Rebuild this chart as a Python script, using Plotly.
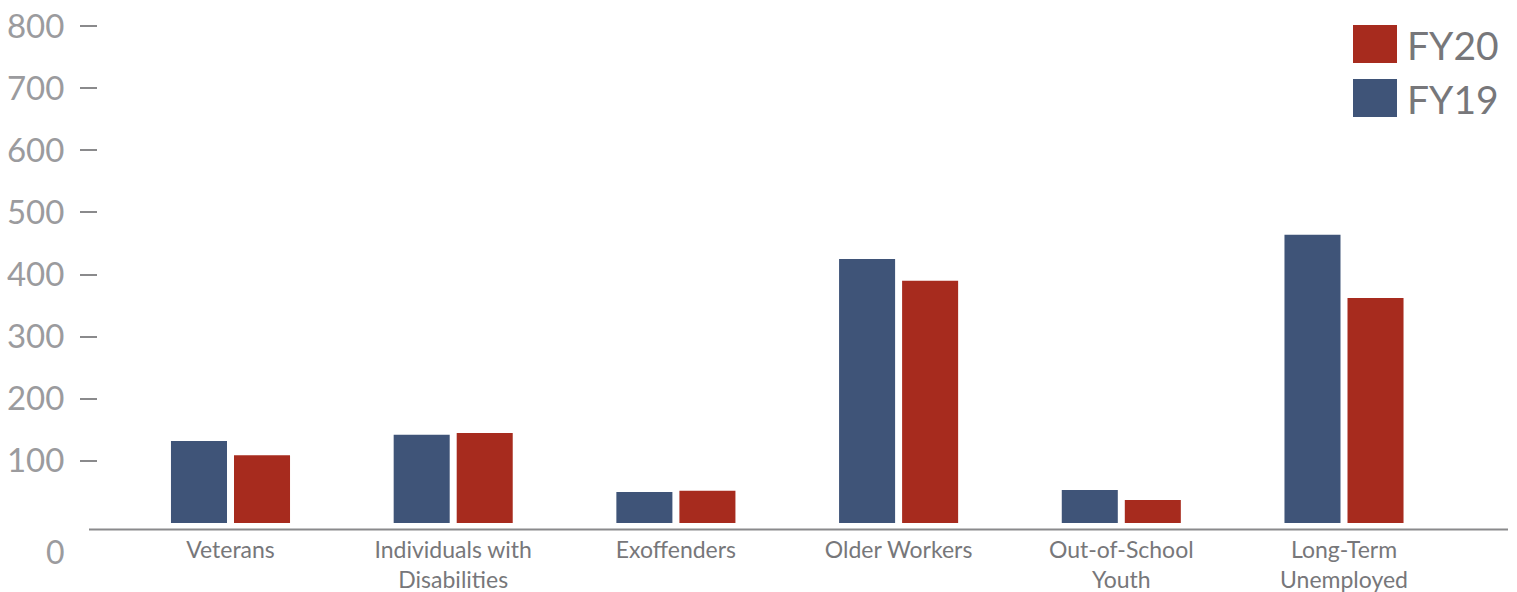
import plotly.graph_objects as go

# ---- data ----
categories = ["Veterans", "Individuals with<br>Disabilities", "Exoffenders",
              "Older Workers", "Out-of-School<br>Youth", "Long-Term<br>Unemployed"]
fy19 = [132, 142, 50, 425, 53, 464]
fy20 = [109, 145, 52, 390, 37, 362]
y_tick_vals = [100, 200, 300, 400, 500, 600, 700, 800]
y_tick_text = ["100", "200", "300", "400", "500", "600", "700", "800"]
series_names = ["FY19", "FY20"]

# ---- style ----
W, H = 1517, 592
ML, MR, MT, MB = 98, 9, 0, 62
PW, PH = W - ML - MR, H - MT - MB
BLUE = "#3F5478"
RED = "#A72B1E"
AXIS = "#8A8A8C"
TICKTXT = "#9B9B9E"
LABTXT = "#77777A"
FONT = "Lato"


def px(x):
    return (x - ML) / PW


def py(y):
    return (H - MB - y) / PH


fig = go.Figure()
fig.add_bar(x=categories, y=fy19, name=series_names[0], marker_color=BLUE,
            marker_line_width=0, showlegend=False)
fig.add_bar(x=categories, y=fy20, name=series_names[1], marker_color=RED,
            marker_line_width=0, showlegend=False)

shapes = [
    # baseline
    dict(type="line", xref="paper", yref="paper", x0=px(89), x1=px(1508),
         y0=py(529.5), y1=py(529.5), line=dict(color=AXIS, width=2)),
    # legend swatches
    dict(type="rect", xref="paper", yref="paper", x0=px(1353), x1=px(1397),
         y0=py(63), y1=py(25), fillcolor=RED, line_width=0),
    dict(type="rect", xref="paper", yref="paper", x0=px(1353), x1=px(1397),
         y0=py(117), y1=py(79), fillcolor=BLUE, line_width=0),
]

annotations = [
    dict(text="0", xref="paper", yref="paper", x=px(67), y=py(551),
         xanchor="right", yanchor="middle", showarrow=False,
         font=dict(family=FONT, size=32, color=TICKTXT)),
    dict(text=series_names[1], xref="paper", yref="paper", x=px(1405), y=py(45),
         xanchor="left", yanchor="middle", showarrow=False,
         font=dict(family=FONT, size=39, color=LABTXT)),
    dict(text=series_names[0], xref="paper", yref="paper", x=px(1405), y=py(99),
         xanchor="left", yanchor="middle", showarrow=False,
         font=dict(family=FONT, size=39, color=LABTXT)),
]

zero_px = 523.0
unit = (zero_px - 26.0) / 800.0  # px per unit
y_lo = -(H - MB - zero_px) / unit
y_hi = (zero_px - MT) / unit

fig.update_layout(
    width=W, height=H,
    margin=dict(l=ML, r=MR, t=MT, b=MB, pad=0),
    paper_bgcolor="white", plot_bgcolor="white",
    barmode="group", bargap=0.434, bargroupgap=0.111,
    showlegend=False,
    shapes=shapes, annotations=annotations,
    xaxis=dict(range=[(ML - 230.5) / 222.7, (1508 - 230.5) / 222.7],
               showgrid=False, zeroline=False, showline=False, ticks="",
               tickfont=dict(family=FONT, size=23, color=LABTXT),
               ticklabelstandoff=4),
    yaxis=dict(range=[y_lo, y_hi], showgrid=False, zeroline=False,
               showline=False, tickmode="array", tickvals=y_tick_vals,
               ticktext=y_tick_text, ticks="outside", ticklen=17,
               tickwidth=1.5, tickcolor=AXIS, ticklabelstandoff=9,
               tickfont=dict(family=FONT, size=33, color=TICKTXT)),
)

fig.write_html("out.html")
